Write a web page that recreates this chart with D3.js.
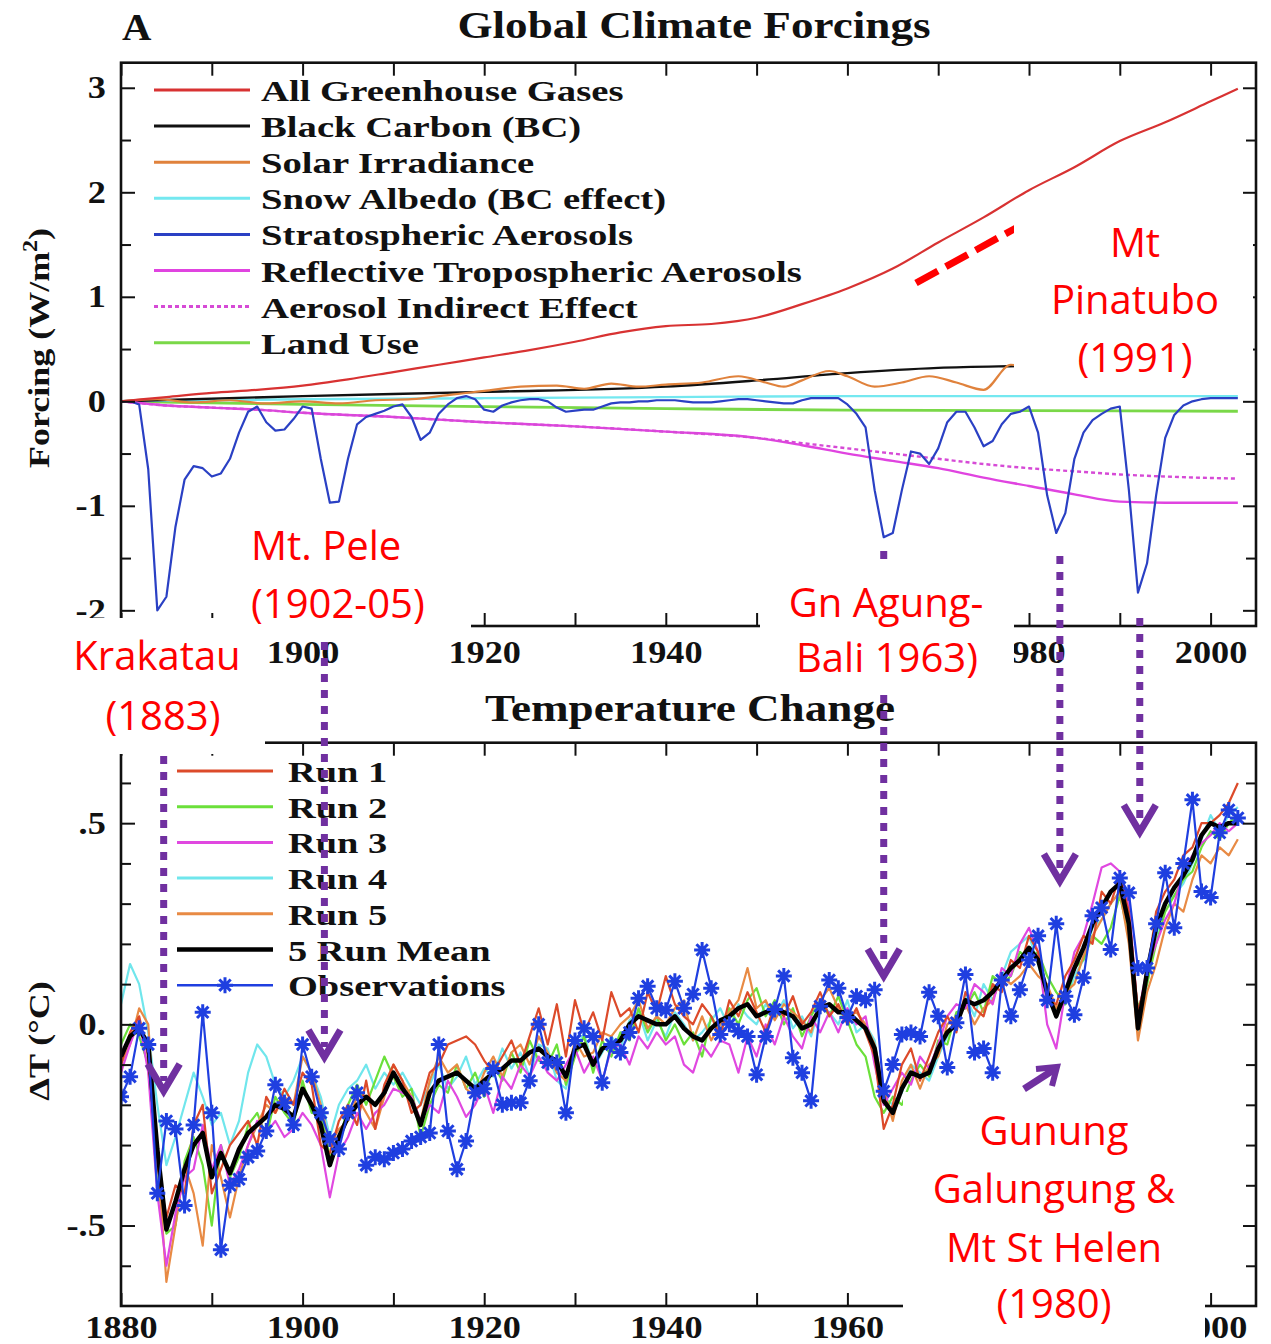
<!DOCTYPE html>
<html>
<head>
<meta charset="utf-8">
<script src="https://cdn.jsdelivr.net/npm/d3@7"></script>
<style>
  html, body { margin: 0; padding: 0; background: #fff; }
  svg { display: block; }
</style>
</head>
<body>
<svg id="chart" width="1271" height="1344"></svg>
<script>
// ---------------------------------------------------------------
// Data
// ---------------------------------------------------------------
const years = d3.range(1880, 2004);           // annual series 1880–2003

// Panel A: climate forcings (W/m²)
const ghgYears   = [1880,1885,1890,1895,1900,1905,1910,1915,1920,1925,1930,1935,1940,1945,1950,1955,1960,1965,1970,1975,1980,1985,1990,1995,2000,2003];
const ghgValues  = [0.00,0.04,0.08,0.11,0.15,0.21,0.28,0.35,0.42,0.49,0.57,0.66,0.72,0.74,0.80,0.93,1.08,1.27,1.52,1.76,2.02,2.24,2.49,2.67,2.87,2.99];

const bcYears    = [1880,1900,1920,1940,1950,1960,1970,1980,1990,2003];
const bcValues   = [0.00,0.05,0.09,0.14,0.20,0.27,0.32,0.34,0.36,0.38];

const solarYears  = [1880,1884,1888,1892,1896,1900,1904,1908,1912,1916,1920,1924,1928,1931,1934,1937,1940,1944,1948,1951,1953,1955,1958,1960,1963,1966,1969,1972,1975,1978,1981,1984,1987,1990,1993,1996,2000,2003];
const solarValues = [0.00,0.02,-0.01,0.01,-0.02,0.00,-0.02,0.01,0.02,0.06,0.10,0.14,0.15,0.12,0.17,0.14,0.16,0.18,0.24,0.18,0.14,0.20,0.29,0.24,0.14,0.18,0.24,0.18,0.11,0.35,0.30,0.22,0.26,0.32,0.24,0.20,0.30,0.26];

const snowYears  = [1880,1900,1920,1940,1960,1980,2003];
const snowValues = [0.00,0.02,0.03,0.04,0.05,0.05,0.05];

const landYears  = [1880,1900,1920,1940,1960,1980,2003];
const landValues = [0.00,-0.03,-0.05,-0.07,-0.085,-0.09,-0.095];

const aerosolYears    = [1880,1885,1890,1895,1900,1910,1920,1930,1940,1950,1955,1960,1965,1970,1975,1980,1985,1990,1995,2003];
const tropAerosol     = [0,-0.04,-0.06,-0.08,-0.11,-0.15,-0.20,-0.24,-0.29,-0.35,-0.42,-0.50,-0.57,-0.64,-0.73,-0.81,-0.89,-0.96,-0.97,-0.97];
const indirectAerosol = [0,-0.04,-0.06,-0.08,-0.11,-0.15,-0.20,-0.24,-0.29,-0.35,-0.40,-0.45,-0.50,-0.55,-0.60,-0.64,-0.67,-0.70,-0.72,-0.74];

const stratAerosol = [
  0.00, 0.00,-0.03,-0.65,-2.00,-1.87,-1.20,-0.75,-0.62,-0.64,
 -0.72,-0.69,-0.55,-0.30,-0.10,-0.05,-0.20,-0.28,-0.27,-0.17,
 -0.05,-0.07,-0.55,-0.97,-0.96,-0.55,-0.22,-0.15,-0.12,-0.09,
 -0.05,-0.03,-0.15,-0.37,-0.30,-0.12,-0.03, 0.03, 0.05, 0.02,
 -0.08,-0.10,-0.04,-0.01, 0.01, 0.02, 0.02, 0.00,-0.06,-0.10,
 -0.09,-0.08,-0.08,-0.05,-0.02,-0.01,-0.01, 0.00, 0.00, 0.01,
  0.01, 0.01, 0.00,-0.01,-0.01,-0.01, 0.00, 0.01, 0.02, 0.02,
  0.01, 0.00,-0.01,-0.02,-0.02, 0.01, 0.03, 0.03, 0.03, 0.03,
 -0.03,-0.12,-0.25,-0.85,-1.30,-1.26,-0.85,-0.48,-0.50,-0.60,
 -0.45,-0.20,-0.10,-0.10,-0.25,-0.43,-0.38,-0.22,-0.12,-0.10,
 -0.05,-0.30,-0.90,-1.26,-1.07,-0.55,-0.30,-0.18,-0.12,-0.07,
 -0.05,-0.85,-1.83,-1.55,-0.90,-0.35,-0.13,-0.04, 0.00, 0.02,
  0.03, 0.03, 0.03, 0.03];

const forcingLabels = ["All Greenhouse Gases","Black Carbon (BC)","Solar Irradiance","Snow Albedo (BC effect)",
                       "Stratospheric Aerosols","Reflective Tropospheric Aerosols","Aerosol Indirect Effect","Land Use"];

// Panel B: temperature change (°C)
const run1 = [
 -0.10,-0.02, 0.02,-0.08,-0.35,-0.48,-0.40,-0.42,-0.25,-0.20,
 -0.42,-0.36,-0.30,-0.27,-0.24,-0.30,-0.18,-0.22,-0.16,-0.20,
 -0.12,-0.15,-0.30,-0.32,-0.24,-0.20,-0.25,-0.14,-0.26,-0.15,
 -0.10,-0.14,-0.22,-0.20,-0.12,-0.10,-0.05,-0.04,-0.03,-0.05,
 -0.09,-0.12,-0.08,-0.04,-0.10,-0.03, 0.04,-0.05, 0.05,-0.08,
  0.06,-0.02, 0.03,-0.04, 0.08, 0.02, 0.04,-0.02, 0.08, 0.03,
  0.12, 0.05, 0.02, 0.00, 0.05, 0.02,-0.03, 0.06, 0.02, 0.08,
  0.03,-0.02, 0.05, 0.02, 0.07, 0.00, 0.03, 0.08, 0.02, 0.05,
  0.00, 0.04,-0.02,-0.08,-0.26,-0.20,-0.10,-0.06,-0.14,-0.08,
 -0.02, 0.02,-0.02, 0.08, 0.04, 0.02, 0.10, 0.08, 0.16, 0.14,
  0.22, 0.18, 0.06, 0.05, 0.12, 0.16, 0.22, 0.20, 0.33, 0.30,
  0.37, 0.28, 0.03, 0.12, 0.28, 0.33, 0.36, 0.42, 0.44, 0.50,
  0.50, 0.52, 0.55, 0.60];
const run2 = [
 -0.05, 0.00,-0.03,-0.10,-0.40,-0.52,-0.50,-0.34,-0.28,-0.35,
 -0.50,-0.30,-0.38,-0.33,-0.25,-0.22,-0.28,-0.18,-0.22,-0.25,
 -0.14,-0.22,-0.22,-0.33,-0.30,-0.20,-0.15,-0.20,-0.14,-0.08,
 -0.13,-0.18,-0.16,-0.28,-0.20,-0.15,-0.17,-0.10,-0.16,-0.12,
 -0.18,-0.10,-0.14,-0.07,-0.12,-0.04,-0.09,-0.10,-0.05,-0.15,
 -0.08,-0.03,-0.12,-0.04,-0.08,-0.02,-0.04, 0.04,-0.02, 0.02,
 -0.04, 0.00,-0.05,-0.02,-0.08, 0.02,-0.02, 0.04, 0.00, 0.06,
  0.09, 0.02, 0.06, 0.00, 0.04,-0.03, 0.02, 0.06, 0.02, 0.07,
  0.01,-0.05,-0.08,-0.18,-0.22,-0.18,-0.20,-0.14,-0.10,-0.13,
 -0.04,-0.05, 0.03, 0.04, 0.08, 0.03, 0.12, 0.10, 0.12, 0.18,
  0.16, 0.18, 0.12, 0.08, 0.05, 0.14, 0.16, 0.22, 0.20, 0.24,
  0.32, 0.22, 0.04, 0.10, 0.20, 0.28, 0.32, 0.36, 0.38, 0.44,
  0.48, 0.46, 0.50, 0.52];
const run3 = [
 -0.12,-0.05, 0.01,-0.12,-0.42,-0.60,-0.47,-0.38,-0.36,-0.25,
 -0.36,-0.30,-0.40,-0.36,-0.30,-0.24,-0.27,-0.24,-0.28,-0.26,
 -0.22,-0.25,-0.30,-0.43,-0.32,-0.28,-0.22,-0.26,-0.22,-0.20,
 -0.16,-0.17,-0.18,-0.24,-0.20,-0.22,-0.14,-0.18,-0.23,-0.20,
 -0.15,-0.22,-0.13,-0.16,-0.10,-0.13,-0.08,-0.12,-0.14,-0.10,
 -0.06,-0.12,-0.08,-0.14,-0.06,-0.05,-0.10,-0.03,-0.06,-0.02,
 -0.05,-0.03,-0.10,-0.12,-0.05,-0.08,-0.04,-0.05,-0.12,-0.03,
 -0.08, 0.00,-0.05, 0.02,-0.03,-0.06, 0.02,-0.02, 0.03,-0.02,
  0.04, 0.00, 0.02,-0.10,-0.20,-0.16,-0.12,-0.15,-0.08,-0.11,
 -0.05, 0.02, 0.05, 0.04, 0.10, 0.08, 0.05, 0.14, 0.12, 0.20,
  0.24, 0.18, 0.00,-0.06, 0.08, 0.18, 0.22, 0.30, 0.39, 0.40,
  0.38, 0.30, 0.02, 0.14, 0.20, 0.26, 0.30, 0.38, 0.42, 0.45,
  0.47, 0.50, 0.48, 0.50];
const run4 = [
  0.05, 0.15, 0.10,-0.02,-0.20,-0.35,-0.28,-0.20,-0.12,-0.18,
 -0.25,-0.22,-0.30,-0.24,-0.12,-0.05,-0.08,-0.15,-0.18,-0.14,
 -0.08,-0.12,-0.18,-0.28,-0.20,-0.16,-0.14,-0.10,-0.16,-0.12,
 -0.15,-0.12,-0.16,-0.20,-0.15,-0.10,-0.16,-0.13,-0.08,-0.15,
 -0.11,-0.13,-0.06,-0.11,-0.07,-0.13,-0.05,-0.06,-0.14,-0.16,
 -0.07,-0.02,-0.11,-0.07,-0.03,-0.06, 0.01, 0.03,-0.04, 0.01,
 -0.03, 0.03, 0.00,-0.04,-0.02, 0.01, 0.04,-0.01, 0.05, 0.02,
  0.00, 0.05, 0.02, 0.06,-0.01, 0.02,-0.03, 0.05, 0.03, 0.00,
  0.06,-0.02, 0.00,-0.04,-0.18,-0.20,-0.17,-0.10,-0.12,-0.14,
 -0.08,-0.03, 0.01, 0.07, 0.02, 0.10, 0.06, 0.12, 0.18, 0.20,
  0.22, 0.15, 0.06, 0.04, 0.05, 0.12, 0.16, 0.24, 0.26, 0.30,
  0.33, 0.24,-0.02, 0.10, 0.22, 0.30, 0.32, 0.35, 0.40, 0.46,
  0.52, 0.48, 0.52, 0.54];
const run5 = [
 -0.10,-0.05, 0.04, 0.00,-0.32,-0.64,-0.50,-0.35,-0.42,-0.55,
 -0.30,-0.38,-0.48,-0.38,-0.30,-0.25,-0.20,-0.22,-0.18,-0.20,
 -0.08,-0.12,-0.20,-0.30,-0.26,-0.24,-0.18,-0.22,-0.26,-0.18,
 -0.10,-0.14,-0.18,-0.24,-0.14,-0.08,-0.12,-0.10,-0.16,-0.18,
 -0.12,-0.08,-0.13,-0.07,-0.05,-0.10,-0.03,-0.07,-0.12,-0.14,
 -0.04,-0.08,-0.07,-0.02,-0.03, 0.00, 0.02, 0.06,-0.01, 0.02,
  0.00, 0.04, 0.06,-0.04, 0.02,-0.04, 0.00, 0.03, 0.06, 0.14,
  0.04, 0.06, 0.01, 0.05, 0.03, 0.01,-0.02, 0.06, 0.09, 0.04,
  0.02, 0.03, 0.00,-0.05,-0.16,-0.24,-0.14,-0.10,-0.16,-0.10,
 -0.08, 0.00, 0.02, 0.05, 0.00, 0.04, 0.06, 0.12, 0.10, 0.12,
  0.15, 0.12, 0.10, 0.04, 0.08, 0.10, 0.17, 0.22, 0.26, 0.30,
  0.33, 0.20,-0.04, 0.08, 0.15, 0.24, 0.30, 0.28, 0.36, 0.42,
  0.40, 0.44, 0.42, 0.46];
const runMean = [
 -0.08,-0.03,-0.01,-0.05,-0.31,-0.51,-0.44,-0.36,-0.30,-0.27,
 -0.38,-0.32,-0.37,-0.31,-0.27,-0.25,-0.23,-0.20,-0.21,-0.23,
 -0.16,-0.20,-0.25,-0.35,-0.28,-0.23,-0.20,-0.18,-0.20,-0.17,
 -0.12,-0.16,-0.19,-0.25,-0.17,-0.14,-0.13,-0.12,-0.14,-0.16,
 -0.14,-0.12,-0.11,-0.09,-0.09,-0.07,-0.06,-0.08,-0.09,-0.13,
 -0.06,-0.05,-0.10,-0.06,-0.05,-0.04, 0.00, 0.02, 0.01, 0.00,
  0.00, 0.02,-0.01,-0.03,-0.04,-0.01, 0.01, 0.02, 0.04, 0.05,
  0.02, 0.03, 0.04, 0.03, 0.02,-0.01, 0.00, 0.04, 0.05, 0.03,
  0.03, 0.01,-0.01,-0.06,-0.19,-0.22,-0.16,-0.12,-0.13,-0.12,
 -0.06,-0.02, 0.00, 0.06, 0.05, 0.06, 0.08, 0.11, 0.14, 0.16,
  0.19, 0.16, 0.08, 0.02, 0.08, 0.14, 0.19, 0.25, 0.29, 0.33,
  0.35, 0.25,-0.01, 0.13, 0.24, 0.30, 0.34, 0.37, 0.41, 0.47,
  0.50, 0.49, 0.50, 0.50];
const observed = [
 -0.18,-0.13,-0.01,-0.05,-0.42,-0.24,-0.26,-0.45,-0.25, 0.03,
 -0.22,-0.56,-0.40,-0.385,-0.33,-0.315,-0.265,-0.15,-0.195,-0.25,
 -0.05,-0.13,-0.22,-0.285,-0.31,-0.22,-0.17,-0.35,-0.33,-0.335,
 -0.32,-0.31,-0.29,-0.28,-0.27,-0.05,-0.265,-0.36,-0.29,-0.17,
 -0.16,-0.11,-0.20,-0.195,-0.195,-0.14, 0.00,-0.095,-0.095,-0.22,
 -0.04,-0.01,-0.03,-0.145,-0.05,-0.07,-0.02, 0.065, 0.095, 0.04,
  0.035, 0.107, 0.04, 0.075, 0.185, 0.09,-0.025, 0.00,-0.017,-0.03,
 -0.125,-0.03, 0.037, 0.12,-0.083,-0.12,-0.19, 0.045, 0.11, 0.09,
  0.017, 0.07, 0.06, 0.086,-0.166,-0.10,-0.025,-0.02,-0.03, 0.08,
  0.02,-0.107, 0.004, 0.124,-0.07,-0.06,-0.12, 0.11, 0.02, 0.086,
  0.16, 0.22, 0.06, 0.25, 0.07, 0.024, 0.116, 0.27, 0.29, 0.186,
  0.364, 0.327, 0.14, 0.14, 0.25, 0.377, 0.24, 0.40, 0.558, 0.33,
  0.315, 0.476, 0.533, 0.513];

const tempLabels = ["Run 1","Run 2","Run 3","Run 4","Run 5","5 Run Mean","Observations"];

// Axis ticks and labels (years whose labels sit under a call-out box are left unprinted)
const xTickYears      = [1880,1890,1900,1910,1920,1930,1940,1950,1960,1970,1980,1990,2000];
const topXLabelYears  = [1900,1920,1940,1980,2000];
const botXLabelYears  = [1880,1900,1920,1940,1960,2000];
const forcingTicks    = [-2,-1,0,1,2,3];
const forcingTickText = ["-2","-1","0","1","2","3"];
const forcingMinor    = [-1.5,-0.5,0.5,1.5,2.5];
const tempTicks       = [-0.5,0,0.5];
const tempTickText    = ["-.5","0.",".5"];
const tempMinor       = [-0.6,-0.4,-0.3,-0.2,-0.1,0.1,0.2,0.3,0.4,0.6];

// Volcanic eruptions called out on the figure
const eruptionNames = [["Krakatau","(1883)"],["Mt. Pele","(1902-05)"],["Gn Agung-","Bali 1963)"],
                       ["Gunung","Galungung &","Mt St Helen","(1980)"],["Mt","Pinatubo","(1991)"]];
const eruptionArrowYears = [1884.7, 1902.4, 1964.0, 1983.4, 1992.2];

// ---------------------------------------------------------------
// Layout and scales
// ---------------------------------------------------------------
const svg = d3.select("#chart");
const SERIF = "'Liberation Serif','Times New Roman',serif";
const SANS  = "'Open Sans','Noto Sans',sans-serif";

const L = 121, R = 1256;
const topPanel = {top: 62.7, bottom: 626};
const botPanel = {top: 742.7, bottom: 1306};

const x = d3.scaleLinear().domain([1880, 2005]).range([L, R]);
const yF = d3.scaleLinear().domain([-2.15, 3.24]).range([topPanel.bottom, topPanel.top]);
const yT = d3.scaleLinear().domain([-0.7, 0.7]).range([botPanel.bottom, botPanel.top]);

function serifText(parent, px, py, str, size, sx, anchor, rotate) {
  return parent.append("text")
    .attr("transform", `translate(${px},${py})` + (rotate ? ` rotate(${rotate})` : "") + ` scale(${sx},1)`)
    .attr("font-family", SERIF).attr("font-weight", "bold").attr("font-size", size)
    .attr("text-anchor", anchor || "start").attr("fill", "#111").text(str);
}

// clip paths
const defs = svg.append("defs");
defs.append("clipPath").attr("id", "clipTop").append("rect")
  .attr("x", L).attr("y", topPanel.top).attr("width", R - L).attr("height", topPanel.bottom - topPanel.top);
defs.append("clipPath").attr("id", "clipBot").append("rect")
  .attr("x", L).attr("y", botPanel.top).attr("width", R - L).attr("height", botPanel.bottom - botPanel.top);

// ---------------------------------------------------------------
// Axes (ticks point inward, labels stretched like the printed figure)
// ---------------------------------------------------------------
function styleAxis(g) {
  g.select(".domain").remove();
  g.selectAll(".tick line").attr("stroke", "#111").attr("stroke-width", 2);
  g.selectAll(".tick text").attr("font-family", SERIF).attr("font-weight", "bold")
    .attr("font-size", 31).attr("fill", "#111").attr("transform", "scale(1.17,1)");
}

function drawAxes(yScale, panel, labelYears, majors, majorText, minors, padX) {
  const g = svg.append("g");
  const fmtX = d => labelYears.includes(d) ? String(d) : "";
  g.append("g").attr("transform", `translate(0,${panel.bottom})`)
    .call(d3.axisBottom(x).tickValues(xTickYears).tickSize(-13).tickSizeOuter(0).tickPadding(padX).tickFormat(fmtX))
    .call(styleAxis);
  g.append("g").attr("transform", `translate(0,${panel.top})`)
    .call(d3.axisTop(x).tickValues(xTickYears).tickSize(-13).tickSizeOuter(0).tickFormat(""))
    .call(styleAxis);
  const lab = new Map(majors.map((v, i) => [v, majorText[i]]));
  g.append("g").attr("transform", `translate(${L},0)`)
    .call(d3.axisLeft(yScale).tickValues(majors).tickSize(-14).tickSizeOuter(0).tickPadding(13).tickFormat(d => lab.get(d)))
    .call(styleAxis);
  g.append("g").attr("transform", `translate(${L},0)`)
    .call(d3.axisLeft(yScale).tickValues(minors).tickSize(-10).tickSizeOuter(0).tickFormat(""))
    .call(styleAxis);
  g.append("g").attr("transform", `translate(${R},0)`)
    .call(d3.axisRight(yScale).tickValues(majors).tickSize(-13).tickSizeOuter(0).tickFormat(""))
    .call(styleAxis);
  g.append("g").attr("transform", `translate(${R},0)`)
    .call(d3.axisRight(yScale).tickValues(minors).tickSize(-10).tickSizeOuter(0).tickFormat(""))
    .call(styleAxis);
  g.selectAll(".tick text").filter(function () { return this.textContent === ""; }).remove();
}

// ---------------------------------------------------------------
// Panel A: Global Climate Forcings
// ---------------------------------------------------------------
const topSeries = [
  {label: forcingLabels[0], xs: ghgYears,     vs: ghgValues,       color: "#d83232", w: 2.2, curve: d3.curveMonotoneX},
  {label: forcingLabels[1], xs: bcYears,      vs: bcValues,        color: "#111111", w: 2.4, curve: d3.curveMonotoneX},
  {label: forcingLabels[2], xs: solarYears,   vs: solarValues,     color: "#e0823c", w: 2.2, curve: d3.curveMonotoneX},
  {label: forcingLabels[3], xs: snowYears,    vs: snowValues,      color: "#74e8f0", w: 2.4, curve: d3.curveMonotoneX},
  {label: forcingLabels[4], xs: years,        vs: stratAerosol,    color: "#2a40c4", w: 2.2, curve: d3.curveLinear},
  {label: forcingLabels[5], xs: aerosolYears, vs: tropAerosol,     color: "#e044e0", w: 2.4, curve: d3.curveMonotoneX},
  {label: forcingLabels[6], xs: aerosolYears, vs: indirectAerosol, color: "#d64ad6", w: 2.4, curve: d3.curveMonotoneX, dash: "4 3"},
  {label: forcingLabels[7], xs: landYears,    vs: landValues,      color: "#7ad848", w: 2.8, curve: d3.curveMonotoneX}
];
const drawOrderTop = [7, 3, 1, 2, 5, 6, 4, 0];

const gTop = svg.append("g").attr("clip-path", "url(#clipTop)");
drawOrderTop.forEach(k => {
  const s = topSeries[k];
  const pts = s.xs.map((yr, i) => ({yr, v: s.vs[i]}));
  gTop.append("path").datum(pts)
    .attr("fill", "none").attr("stroke", s.color).attr("stroke-width", s.w)
    .attr("stroke-dasharray", s.dash || null).attr("stroke-linejoin", "round")
    .attr("d", d3.line().x(d => x(d.yr)).y(d => yF(d.v)).curve(s.curve));
});

drawAxes(yF, topPanel, topXLabelYears, forcingTicks, forcingTickText, forcingMinor, 15);

// legend
const topLegend = svg.append("g");
topSeries.forEach((s, i) => {
  const ly = 90 + i * 36.1;
  topLegend.append("line").attr("x1", 154).attr("x2", 250).attr("y1", ly).attr("y2", ly)
    .attr("stroke", s.color).attr("stroke-width", 3).attr("stroke-dasharray", s.dash ? "4 3" : null);
  serifText(topLegend, 261, ly + 11, s.label, 30, 1.29, "start");
});

svg.append("rect").attr("x", L).attr("y", topPanel.top).attr("width", R - L)
  .attr("height", topPanel.bottom - topPanel.top).attr("fill", "none").attr("stroke", "#111").attr("stroke-width", 2.6);

serifText(svg, 122, 40, "A", 37, 1.1, "start");
serifText(svg, 694, 38, "Global Climate Forcings", 37, 1.22, "middle");

// y-axis title with superscript
const fTitle = serifText(svg, 49, 348, "", 30, 1.2, "middle", -90);
fTitle.append("tspan").text("Forcing (W/m");
fTitle.append("tspan").attr("font-size", 20).attr("dy", -12).text("2");
fTitle.append("tspan").attr("dy", 12).text(")");

// ---------------------------------------------------------------
// Panel B: Temperature Change
// ---------------------------------------------------------------
const runSeries = [
  {label: tempLabels[0], vs: run1, color: "#dc4a2a"},
  {label: tempLabels[1], vs: run2, color: "#6be03a"},
  {label: tempLabels[2], vs: run3, color: "#e048e0"},
  {label: tempLabels[3], vs: run4, color: "#70e6ec"},
  {label: tempLabels[4], vs: run5, color: "#e88a44"}
];
const tempLine = d3.line().x((d, i) => x(years[i])).y(d => yT(d));

const gBot = svg.append("g").attr("clip-path", "url(#clipBot)");
[3, 1, 4, 2, 0].forEach(k => {
  gBot.append("path").datum(runSeries[k].vs)
    .attr("fill", "none").attr("stroke", runSeries[k].color).attr("stroke-width", 2.2)
    .attr("stroke-linejoin", "round").attr("d", tempLine);
});

const OBS = "#1f3fe0";
const starPath = "M-8,0L8,0M0,-8L0,8M-5.7,-5.7L5.7,5.7M-5.7,5.7L5.7,-5.7";
gBot.append("path").datum(runMean).attr("fill", "none").attr("stroke", "#000")
  .attr("stroke-width", 4.5).attr("stroke-linejoin", "round").attr("d", tempLine);
gBot.append("path").datum(observed).attr("fill", "none").attr("stroke", OBS)
  .attr("stroke-width", 2.2).attr("stroke-linejoin", "round").attr("d", tempLine);
gBot.selectAll("path.obs").data(observed).join("path").attr("class", "obs")
  .attr("transform", (d, i) => `translate(${x(years[i])},${yT(d)})`)
  .attr("d", starPath).attr("stroke", OBS).attr("stroke-width", 3).attr("fill", "none");

drawAxes(yT, botPanel, botXLabelYears, tempTicks, tempTickText, tempMinor, 10);

// legend
const botLegend = svg.append("g");
const legendStyles = runSeries.map(s => ({color: s.color, w: 3}))
  .concat([{color: "#000", w: 4.5}, {color: OBS, w: 2.5, star: true}]);
tempLabels.forEach((lab, i) => {
  const ly = 771 + i * 35.7;
  const st = legendStyles[i];
  botLegend.append("line").attr("x1", 177).attr("x2", 273).attr("y1", ly).attr("y2", ly)
    .attr("stroke", st.color).attr("stroke-width", st.w);
  if (st.star) {
    botLegend.append("path").attr("transform", `translate(225,${ly})`).attr("d", starPath)
      .attr("stroke", OBS).attr("stroke-width", 3).attr("fill", "none");
  }
  serifText(botLegend, 288, ly + 11, lab, 30, 1.28, "start");
});

svg.append("rect").attr("x", L).attr("y", botPanel.top).attr("width", R - L)
  .attr("height", botPanel.bottom - botPanel.top).attr("fill", "none").attr("stroke", "#111").attr("stroke-width", 2.6);

serifText(svg, 690, 721, "Temperature Change", 37, 1.22, "middle");
serifText(svg, 49, 1041, "\u0394T (\u00B0C)", 30, 1.2, "middle", -90);

// ---------------------------------------------------------------
// Volcano call-outs
// ---------------------------------------------------------------
const PURPLE = "#7030a0", RED = "#ff0000";
const ann = svg.append("g");

// dotted arrows from each eruption down to the temperature response
const arrowSpans = [[756, 1095], [642, 1061], [551, 980], [556, 885], [618, 836]];
eruptionArrowYears.forEach((yr, i) => {
  const ax = x(yr), [y0, tip] = arrowSpans[i];
  ann.append("line").attr("x1", ax).attr("x2", ax).attr("y1", y0).attr("y2", tip - 14)
    .attr("stroke", PURPLE).attr("stroke-width", 7).attr("stroke-dasharray", "8 8");
  ann.append("path").attr("d", `M${ax - 16},${tip - 31}L${ax},${tip - 4}L${ax + 16},${tip - 31}`)
    .attr("fill", "none").attr("stroke", PURPLE).attr("stroke-width", 7).attr("stroke-linejoin", "miter");
});

// small pointer towards the 1982 dip
ann.append("path").attr("d", "M1024,1089L1055,1069").attr("stroke", PURPLE).attr("stroke-width", 7).attr("fill", "none");
ann.append("path").attr("d", "M1036,1069L1057,1067L1052,1086").attr("stroke", PURPLE).attr("stroke-width", 6)
  .attr("fill", "none").attr("stroke-linejoin", "miter");

// red dashed leader to the Pinatubo label
ann.append("line").attr("x1", 916).attr("y1", 283).attr("x2", 1016).attr("y2", 228)
  .attr("stroke", RED).attr("stroke-width", 7).attr("stroke-dasharray", "25 9");

// white label boxes
const boxes = [
  {x: 62,   y: 618,  w: 203, h: 136},
  {x: 242,  y: 522,  w: 229, h: 108},
  {x: 760,  y: 566,  w: 254, h: 128},
  {x: 903,  y: 1092, w: 302, h: 252},
  {x: 1014, y: 202,  w: 239, h: 193}
];
boxes.forEach(b => ann.append("rect").attr("x", b.x).attr("y", b.y).attr("width", b.w).attr("height", b.h).attr("fill", "#fff"));

// red labels
const labelLayout = [
  {x: 157, anchor: "middle", base: [670, 730], dx: [0, 6]},
  {x: 251, anchor: "start",  base: [560, 618], dx: [0, 0]},
  {x: 886, anchor: "middle", base: [617, 672], dx: [0, 1]},
  {x: 1054, anchor: "middle", base: [1145, 1203, 1262, 1318], dx: [0, 0, 0, 0]},
  {x: 1135, anchor: "middle", base: [257, 314, 372], dx: [0, 0, 0]}
];
eruptionNames.forEach((lines, i) => {
  const lay = labelLayout[i];
  lines.forEach((t, j) => {
    ann.append("text").attr("x", lay.x + lay.dx[j]).attr("y", lay.base[j])
      .attr("text-anchor", lay.anchor).attr("font-family", SANS).attr("font-size", 40)
      .attr("fill", RED).text(t);
  });
});
</script>
</body>
</html>
